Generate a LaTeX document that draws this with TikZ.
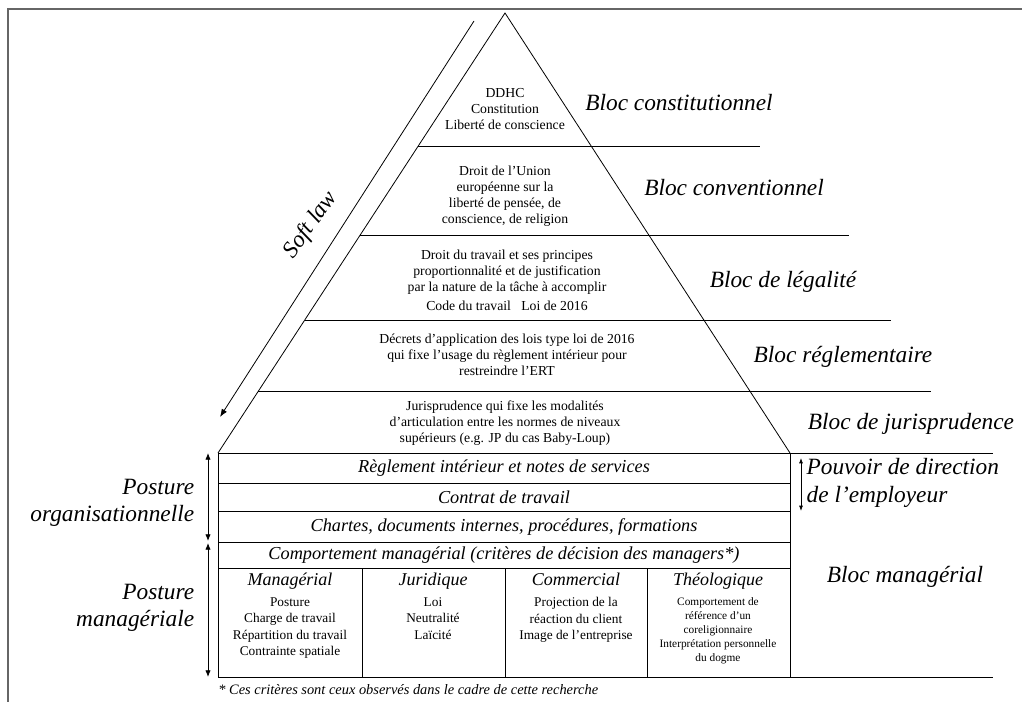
\documentclass[tikz,border=0pt]{standalone}
\usepackage{fontspec}
\setmainfont{Liberation Serif}
\usetikzlibrary{arrows.meta,calc}

\tikzset{
  bloc/.style={font=\fontsize{17.5}{20.5}\selectfont\itshape},
  posture/.style={font=\fontsize{17.5}{20.5}\selectfont\itshape, align=right, anchor=east},
  tier/.style={font=\fontsize{10.3}{12}\selectfont, align=center},
  row/.style={font=\fontsize{13.7}{16}\selectfont\itshape},
  colhead/.style={font=\fontsize{13.5}{16}\selectfont\itshape, anchor=base},
  colbody/.style={font=\fontsize{10}{12.4}\selectfont, align=center, anchor=north, inner sep=0pt},
  twohead/.style={{Latex[length=5pt,width=4pt]}-{Latex[length=5pt,width=4pt]}},
}

\begin{document}
\begin{tikzpicture}[x=0.75pt,y=-0.75pt,line width=0.6pt]
    \useasboundingbox (0,0) rectangle (1022,702);
    \draw[black!60, line width=1.5pt] (8,702) -- (8,9) -- (1022,9);

    \coordinate (apex) at (505,13);
    \coordinate (baseL) at (218,453);
    \coordinate (baseR) at (790,453);
    \coordinate (boxBR) at (790,677);
    \draw (baseL) -- (apex) -- (baseR);
    \foreach \f/\xr in {0.3023/760, 0.5045/849, 0.6977/891, 0.859/931}
        \draw ($(apex)!\f!(baseL)$) coordinate (tl) -- (tl -| \xr,0);
    \draw (baseR) -- (993,453);
    \draw (boxBR) -- (993,677);

    \coordinate (softA) at (474,21);
    \coordinate (softB) at (220,417);
    \draw[-{Latex[length=6pt,width=4.5pt]}] (softA) -- (softB);
    \node[bloc, rotate=54, inner sep=1pt] (softlaw) at (311,225) {Soft law};

    \node[tier] (t1) at (505,109) {DDHC\\Constitution\\Libert\'e de conscience};
    \node[tier] (t2) at (505,196) {Droit de l'Union\\europ\'eenne sur la\\libert\'e de pens\'ee, de\\conscience, de religion};
    \node[tier] (t3) at (507,280) {Droit du travail et ses principes\\proportionnalit\'e et de justification\\par la nature de la t\^ache \`a accomplir\\[2pt]Code du travail\ \ \ Loi de 2016};
    \node[tier] (t4) at (507,355) {D\'ecrets d'application des lois type loi de 2016\\qui fixe l'usage du r\`eglement int\'erieur pour\\restreindre l'ERT};
    \node[tier] (t5) at (505,423) {Jurisprudence qui fixe les modalit\'es\\d'articulation entre les normes de niveaux\\sup\'erieurs (e.g. JP du cas Baby-Loup)};

    \node[bloc] (bconst) at (679,103) {Bloc constitutionnel};
    \node[bloc] (bconv) at (734,188) {Bloc conventionnel};
    \node[bloc] (blegal) at (783,282) {Bloc de l\'egalit\'e};
    \node[bloc] (breg) at (843,357) {Bloc r\'eglementaire};
    \node[bloc] (bjur) at (911,424) {Bloc de jurisprudence};
    \node[bloc] (bman) at (905,577) {Bloc manag\'erial};

    \draw (baseL) rectangle (boxBR);
    \foreach \y in {483,511,542,568}
        \draw (218,\y) -- (790,\y);
    \foreach \x in {362,505,647}
        \draw (\x,568) -- (\x,677);

    \node[row] (r1) at (504,468) {R\`eglement int\'erieur et notes de services};
    \node[row] (r2) at (504,497) {Contrat de travail};
    \node[row] (r3) at (504,527) {Chartes, documents internes, proc\'edures, formations};
    \node[row] (r4) at (504,555) {Comportement manag\'erial (crit\`eres de d\'ecision des managers*)};

    \node[colhead] (h1) at (290,585) {Manag\'erial};
    \node[colhead] (h2) at (433,585) {Juridique};
    \node[colhead] (h3) at (576,585) {Commercial};
    \node[colhead] (h4) at (718,585) {Th\'eologique};
    \node[colbody] (c1) at (290,597) {Posture\\Charge de travail\\R\'epartition du travail\\Contrainte spatiale};
    \node[colbody] (c2) at (433,597) {Loi\\Neutralit\'e\\La\"icit\'e};
    \node[colbody] (c3) at (576,597) {Projection de la\\r\'eaction du client\\Image de l'entreprise};
    \node[colbody, font=\fontsize{8.5}{10.5}\selectfont] (c4) at (718,597) {Comportement de\\r\'ef\'erence d'un\\coreligionnaire\\Interpr\'etation personnelle\\du dogme};

    \coordinate (orgT) at (208,453);
    \coordinate (orgB) at (208,541);
    \coordinate (manT) at (208,543);
    \coordinate (manB) at (208,677);
    \draw[twohead] (orgT) -- (orgB);
    \draw[twohead] (manT) -- (manB);
    \node[posture] (porg) at (199,503) {Posture\\organisationnelle};
    \node[posture] (pman) at (199,608) {Posture\\manag\'eriale};

    \coordinate (pouvT) at (801,458);
    \coordinate (pouvB) at (801,511);
    \draw[{Latex[length=4pt,width=3pt]}-{Latex[length=4pt,width=3pt]}] (pouvT) -- (pouvB);
    \node[bloc, align=left, anchor=west, inner sep=1pt] (pouv) at (805,483) {Pouvoir de direction\\de l'employeur};

    \node[font=\fontsize{10.8}{12}\selectfont\itshape, anchor=west, inner sep=0pt] (note) at (218,690) {* Ces crit\`eres sont ceux observ\'es dans le cadre de cette recherche};
\end{tikzpicture}
\end{document}
